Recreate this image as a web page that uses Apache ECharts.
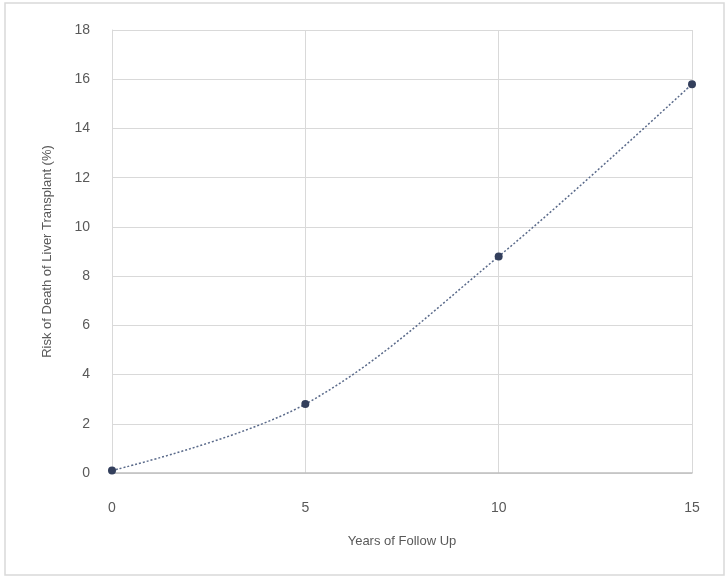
<!DOCTYPE html>
<html><head><meta charset="utf-8">
<script src="https://cdn.jsdelivr.net/npm/echarts@6/dist/echarts.min.js"></script>
<style>html,body{margin:0;padding:0;background:#fff}#c{width:727px;height:578px}</style>
</head><body><div id="c"></div>
<script>
const years = [0, 5, 10, 15];
const risk = [0.1, 2.8, 8.8, 15.8];
const xTicks = [0, 5, 10, 15];
const yTicks = [0, 2, 4, 6, 8, 10, 12, 14, 16, 18];
const xTitle = 'Years of Follow Up';
const yTitle = 'Risk of Death of Liver Transplant (%)';

const chart = echarts.init(document.getElementById('c'), null, {renderer: 'canvas'});
chart.setOption({
  backgroundColor: '#fff',
  animation: false,
  graphic: [{type: 'rect', shape: {x: 5, y: 3, width: 719, height: 572}, style: {fill: 'none', stroke: '#d9d9d9', lineWidth: 1.5}}],
  grid: {left: 112, right: 35, top: 30, bottom: 105},
  xAxis: {
    type: 'value', min: 0, max: 15, interval: 5,
    name: xTitle, nameLocation: 'middle', nameGap: 62,
    nameTextStyle: {color: '#595959', fontSize: 13, fontFamily: 'Liberation Sans'},
    axisLine: {show: true, lineStyle: {color: '#bfbfbf', width: 1.5}},
    axisTick: {show: false},
    axisLabel: {color: '#595959', fontSize: 14, margin: 28, fontFamily: 'Liberation Sans'},
    splitLine: {show: true, lineStyle: {color: '#d9d9d9', width: 1}}
  },
  yAxis: {
    type: 'value', min: 0, max: 18, interval: 2,
    name: yTitle, nameLocation: 'middle', nameGap: 58,
    nameTextStyle: {color: '#595959', fontSize: 13, fontFamily: 'Liberation Sans'},
    axisLine: {show: true, lineStyle: {color: '#d9d9d9', width: 1}},
    axisTick: {show: false},
    axisLabel: {color: '#595959', fontSize: 14, margin: 22, fontFamily: 'Liberation Sans'},
    splitLine: {show: true, lineStyle: {color: '#d9d9d9', width: 1}}
  },
  series: [{
    type: 'line',
    data: years.map((x, i) => [x, risk[i]]),
    smooth: 0.35,
    symbol: 'circle', symbolSize: 8,
    itemStyle: {color: '#333f5c'},
    lineStyle: {color: '#5a6a8a', width: 1.5, type: [2, 2]}
  }]
});
</script></body></html>
